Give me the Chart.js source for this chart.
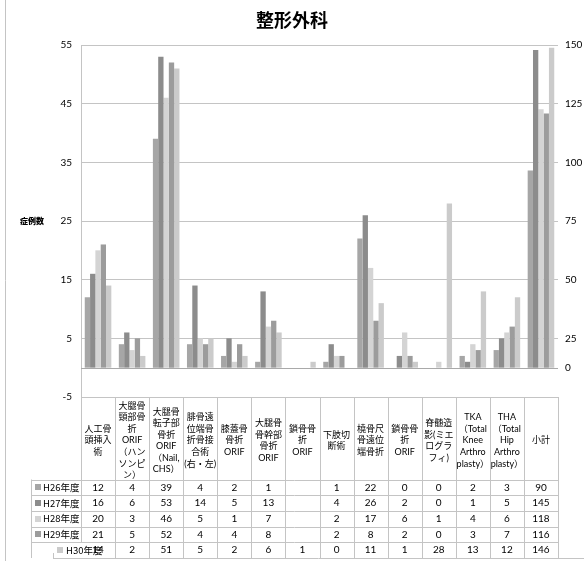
<!DOCTYPE html>
<html>
<head>
<meta charset="utf-8">
<script src="https://cdn.jsdelivr.net/npm/chart.js@4/dist/chart.umd.min.js"></script>
<style>
  html, body { margin: 0; padding: 0; background: #fff; }
  #wrap { position: relative; width: 584px; height: 561px; }
</style>
</head>
<body>
<div id="wrap"><canvas id="c" width="584" height="561"></canvas></div>
<script>
// Procedure categories (header cells of the data table)
const categories = [
  ['人工骨', '頭挿入', '術'],
  ['大腿骨', '頸部骨', '折', 'ORIF', '（ハン', 'ソンピ', 'ン）'],
  ['大腿骨', '転子部', '骨折', 'ORIF', '（Nail,', 'CHS）'],
  ['腓骨遠', '位端骨', '折骨接', '合術', '(右・左)'],
  ['膝蓋骨', '骨折', 'ORIF'],
  ['大腿骨', '骨幹部', '骨折', 'ORIF'],
  ['鎖骨骨', '折', 'ORIF'],
  ['下肢切', '断術'],
  ['橈骨尺', '骨遠位', '端骨折'],
  ['鎖骨骨', '折', 'ORIF'],
  ['脊髄造', '影(ミエ', 'ログラ', 'フィ)'],
  ['TKA', '（Total', 'Knee', 'Arthro', 'plasty）'],
  ['THA', '（Total', 'Hip', 'Arthro', 'plasty）'],
  ['小計']
];

const years = ['H26年度', 'H27年度', 'H28年度', 'H29年度', 'H30年度'];

// Case counts per fiscal year (last entry = subtotal)
const h26 = [12, 4, 39, 4, 2, 1, null, 1, 22, 0, 0, 2, 3, 90];
const h27 = [16, 6, 53, 14, 5, 13, null, 4, 26, 2, 0, 1, 5, 145];
const h28 = [20, 3, 46, 5, 1, 7, null, 2, 17, 6, 1, 4, 6, 118];
const h29 = [21, 5, 52, 4, 4, 8, null, 2, 8, 2, 0, 3, 7, 116];
const h30 = [14, 2, 51, 5, 2, 6, 1, 0, 11, 1, 28, 13, 12, 146];

// Axis tick labels
const leftTickValues = [-5, 5, 15, 25, 35, 45, 55];
const rightTickLabels = ['0', '25', '50', '75', '100', '125', '150'];

const series = [h26, h27, h28, h29, h30];
const colors = ['#a6a6a6', '#8c8c8c', '#d4d4d4', '#9c9c9c', '#cbcbcb'];
const SUB = categories.length - 1;

const LATIN_CJK = 'Lato, "Noto Sans CJK JP", sans-serif';
const CJK = '"Noto Sans CJK JP", sans-serif';

// Per-year bars for the procedures (left axis) and the subtotal (secondary axis);
// both share a stack id so they occupy the same slot in each category.
const datasets = [];
series.forEach((vals, i) => {
  datasets.push({
    label: years[i],
    data: vals.map((v, j) => (j < SUB ? v : null)),
    yAxisID: 'y',
    stack: 's' + i,
    backgroundColor: colors[i],
    categoryPercentage: 0.78,
    barPercentage: 1.0
  });
});
series.forEach((vals, i) => {
  datasets.push({
    label: years[i] + ' 小計',
    data: vals.map((v, j) => (j === SUB ? v : null)),
    yAxisID: 'y3',
    stack: 's' + i,
    backgroundColor: colors[i],
    categoryPercentage: 0.78,
    barPercentage: 1.0
  });
});

const SUBTOTAL_MAX = 147.3;

const tablePlugin = {
  id: 'dataTable',
  beforeDatasetsDraw(chart) {
    const { ctx, chartArea: a, scales: { y } } = chart;
    const y0 = Math.round(y.getPixelForValue(0)) + 0.5;
    ctx.save();
    ctx.strokeStyle = '#a9a9a9';
    ctx.lineWidth = 1;
    ctx.beginPath();
    ctx.moveTo(a.left, y0);
    ctx.lineTo(a.right, y0);
    ctx.stroke();
    ctx.restore();
  },
  afterDraw(chart) {
    const { ctx, chartArea: a, scales: { x, y } } = chart;
    const n = categories.length;
    const colW = (x.right - x.left) / n;
    const headTop = a.bottom;
    const headBottom = a.bottom + 82.5;
    const rowH = 15.7;
    const tableBottom = headBottom + rowH * years.length;
    const px = v => Math.round(v) + 0.5;

    ctx.save();
    ctx.strokeStyle = '#c4c4c4';
    ctx.lineWidth = 1;
    ctx.beginPath();
    // outer frame line on the left
    ctx.moveTo(5.5, 0);
    ctx.lineTo(5.5, chart.height);
    // column separators
    for (let k = 0; k <= n; k++) {
      const xx = px(x.left + k * colW);
      ctx.moveTo(xx, headTop);
      ctx.lineTo(xx, k === 0 ? headBottom + rowH * (years.length - 1) : tableBottom);
    }
    // row separators
    for (let r = 0; r < years.length; r++) {
      const yy = px(headBottom + r * rowH);
      ctx.moveTo(31, yy);
      ctx.lineTo(x.right, yy);
    }
    ctx.moveTo(53, px(tableBottom));
    ctx.lineTo(chart.width, px(tableBottom));
    // row header left border
    ctx.moveTo(31.5, headBottom);
    ctx.lineTo(31.5, tableBottom);
    ctx.moveTo(53.5, tableBottom - 5);
    ctx.lineTo(53.5, tableBottom);
    ctx.stroke();

    // row headers with legend keys, then the values
    ctx.textBaseline = 'middle';
    years.forEach((yr, r) => {
      const cy = headBottom + r * rowH + rowH / 2;
      const last = r === years.length - 1;
      const keyX = last ? 57 : 35;
      const textX = last ? 66 : 43;
      ctx.fillStyle = colors[r];
      ctx.fillRect(keyX, Math.round(cy) - 3, 6, 6);
      ctx.fillStyle = '#000';
      ctx.font = '9.5px ' + CJK;
      ctx.textAlign = 'left';
      ctx.fillText(yr, textX, cy);
      ctx.font = '10px ' + LATIN_CJK;
      ctx.textAlign = 'center';
      series[r].forEach((v, j) => {
        if (v === null) return;
        ctx.fillText(String(v), x.getPixelForValue(j), cy);
      });
    });

    // vertical axis title, written horizontally
    ctx.font = '900 8px ' + CJK;
    ctx.textAlign = 'right';
    ctx.fillStyle = '#000';
    ctx.fillText('症例数', 44, y.getPixelForValue(25));
    ctx.restore();
  }
};

new Chart(document.getElementById('c'), {
  type: 'bar',
  data: { labels: categories, datasets },
  plugins: [tablePlugin],
  options: {
    responsive: false,
    animation: false,
    devicePixelRatio: 1,
    layout: { padding: 0 },
    plugins: {
      legend: { display: false },
      tooltip: { enabled: false },
      title: {
        display: true,
        text: '整形外科',
        color: '#000',
        font: { family: CJK, size: 18, weight: 'bold', lineHeight: 1.2 },
        padding: { top: 9, bottom: 14.4 }
      }
    },
    scales: {
      x: {
        grid: { display: false },
        border: { display: false },
        ticks: {
          autoSkip: false,
          maxRotation: 0,
          minRotation: 0,
          crossAlign: 'center',
          padding: 1,
          color: '#000',
          font: { family: LATIN_CJK, size: 9, lineHeight: 1.28 }
        },
        afterFit(s) { s.height = 164; }
      },
      y: {
        position: 'left',
        min: -5,
        max: 55,
        afterBuildTicks(s) { s.ticks = leftTickValues.map(v => ({ value: v })); },
        ticks: { padding: 9, color: '#000', font: { family: LATIN_CJK, size: 10 } },
        grid: { color: '#c4c4c4', drawTicks: false },
        border: { color: '#c4c4c4' },
        afterFit(s) { s.width = 81; }
      },
      y2: {
        position: 'right',
        min: -5,
        max: 55,
        afterBuildTicks(s) { s.ticks = [0, 5, 15, 25, 35, 45, 55].map(v => ({ value: v })); },
        ticks: {
          padding: 7,
          color: '#000',
          font: { family: LATIN_CJK, size: 10 },
          callback: (v, i) => rightTickLabels[i]
        },
        grid: { display: false, drawTicks: false },
        border: { display: false },
        afterFit(s) { s.width = 26; }
      },
      y3: {
        display: false,
        min: -SUBTOTAL_MAX / 11,
        max: SUBTOTAL_MAX
      }
    }
  }
});
</script>
</body>
</html>
